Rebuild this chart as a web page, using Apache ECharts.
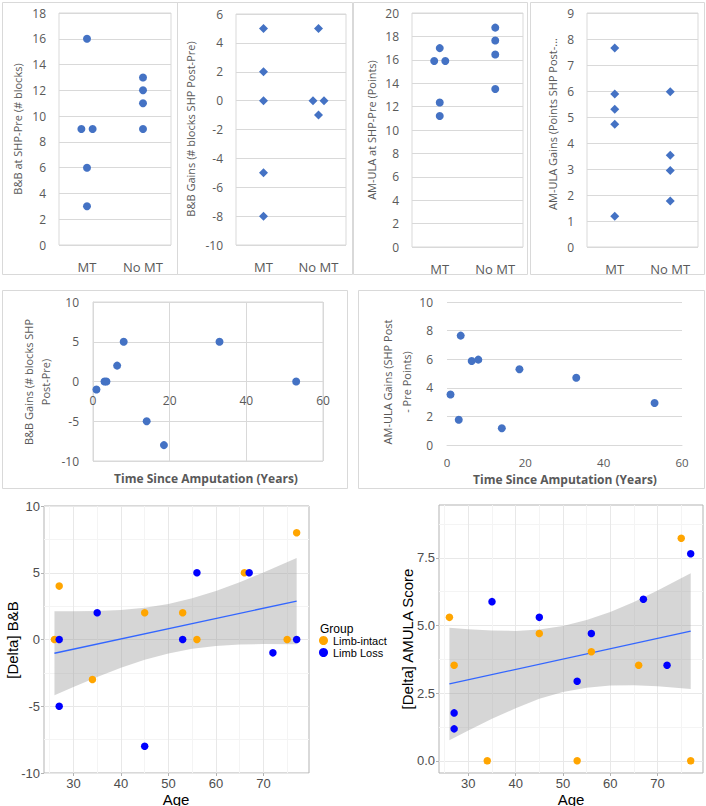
<!DOCTYPE html>
<html><head><meta charset="utf-8">
<script src="https://cdn.jsdelivr.net/npm/echarts@6/dist/echarts.min.js"></script>
<style>html,body{margin:0;padding:0;background:#fff}#c{width:706px;height:806px}</style>
</head><body><div id="c"></div>
<script>
// ================= DATA =================
const groupLabels = ['MT', 'No MT'];

// Top row (dot plots by group). Offsets separate tied points horizontally.
const bbPreGroup  = ['MT','MT','MT','MT','MT','No MT','No MT','No MT','No MT'];
const bbPreOffset = [0, -0.1, 0.1, 0, 0, 0, 0, 0, 0];
const bbPreValue  = [16, 9, 9, 6, 3, 13, 12, 11, 9];

const bbGainGroup  = ['MT','MT','MT','MT','MT','No MT','No MT','No MT','No MT'];
const bbGainOffset = [0, 0, 0, 0, 0, 0, -0.1, 0.1, 0];
const bbGainValue  = [5, 2, 0, -5, -8, 5, 0, 0, -1];

const amPreGroup  = ['MT','MT','MT','MT','MT','No MT','No MT','No MT','No MT'];
const amPreOffset = [0, -0.1, 0.1, 0, 0, 0, 0, 0, 0];
const amPreValue  = [17, 15.9, 15.9, 12.35, 11.2, 18.75, 17.65, 16.45, 13.5];

const amGainGroup  = ['MT','MT','MT','MT','MT','No MT','No MT','No MT','No MT'];
const amGainOffset = [0, 0, 0, 0, 0, 0, 0, 0, 0];
const amGainValue  = [7.65, 5.88, 5.3, 4.72, 1.18, 5.97, 3.53, 2.94, 1.77];

// Middle row (vs time since amputation)
const yearsSince      = [0.9, 3.0, 3.5, 6.3, 8.0, 14.0, 18.5, 33.0, 53.0];
const bbGainByYears   = [-1, 0, 0, 2, 5, -5, -8, 5, 0];
const amGainByYears   = [3.53, 1.77, 7.65, 5.87, 5.97, 1.17, 5.3, 4.7, 2.94];

// Bottom row (vs age, by group)
const intactAge = [26, 27, 34, 45, 53, 56, 66, 75, 77];
const intactBB  = [0, 4, -3, 2, 2, 0, 5, 0, 8];
const intactAM  = [5.3, 3.53, 0, 4.7, 0, 4.03, 3.53, 8.22, 0];
const lossAge   = [27, 27, 35, 45, 53, 56, 67, 72, 77];
const lossBB    = [0, -5, 2, -8, 0, 5, 5, -1, 0];
const lossAM    = [1.77, 1.18, 5.88, 5.3, 2.94, 4.7, 5.97, 3.53, 7.65];

// Fitted lines and confidence bands
const fitAge = [26, 77];
const bbFit  = [-1.03, 2.88];
const amFit  = [2.84, 4.79];
const bandAge    = [26, 30, 35, 40, 45, 50, 55, 60, 65, 70, 77];
const bbBandLow  = [-4.18, -3.55, -2.81, -2.11, -1.52, -1.04, -0.69, -0.48, -0.37, -0.34, -0.35];
const bbBandHigh = [2.12, 2.11, 2.13, 2.21, 2.38, 2.66, 3.09, 3.64, 4.29, 5.02, 6.11];
const amBandLow  = [0.76, 1.12, 1.55, 1.94, 2.29, 2.54, 2.70, 2.78, 2.79, 2.75, 2.65];
const amBandHigh = [4.92, 4.86, 4.81, 4.80, 4.85, 4.98, 5.20, 5.50, 5.87, 6.29, 6.93];

// Tick values
const ageTicks = [30, 40, 50, 60, 70];
const ageMinorTicks = [25, 35, 45, 55, 65, 75];
const bbTicks = [-10, -5, 0, 5, 10];
const bbMinorTicks = [-7.5, -2.5, 2.5, 7.5];
const amTicks = [0, 2.5, 5, 7.5];
const amMinorTicks = [1.25, 3.75, 6.25, 8.75];

// ================= STYLE =================
const F_XL = '"Open Sans", "Noto Sans", sans-serif';
const F_GG = '"Liberation Sans", Arial, sans-serif';
const XL_LINE = '#d9d9d9', XL_TEXT = '#595959', XL_BLUE = '#4472C4';
const GG_BORDER = '#b3b3b3', GG_MAJOR = '#e8e8e8', GG_MINOR = '#f4f4f4', GG_TEXT = '#4d4d4d';
const C_INTACT = '#FFA500', C_LOSS = '#0000FF', C_FIT = '#3366FF';

function g(l, t, w, h, extra) {
  return Object.assign({left: l, top: t, width: w, height: h, outerBoundsMode: 'none', containLabel: false}, extra || {});
}
const MID_L = {left: 93, top: 302, width: 230, height: 159};
const grids = [
  g(59, 13, 112, 232, {show: true, borderColor: XL_LINE, borderWidth: 1}),
  g(236, 14, 110, 231, {show: true, borderColor: XL_LINE, borderWidth: 1}),
  g(412, 13, 111, 234, {show: true, borderColor: XL_LINE, borderWidth: 1}),
  g(587, 13, 111, 234, {show: true, borderColor: XL_LINE, borderWidth: 1}),
  g(MID_L.left, MID_L.top, MID_L.width, MID_L.height, {show: true, borderColor: XL_LINE, borderWidth: 1}),
  g(447, 302, 235, 143),
  g(44, 506, 265, 267, {show: true, borderColor: GG_BORDER, borderWidth: 1}),
  g(439, 505, 264, 268, {show: true, borderColor: GG_BORDER, borderWidth: 1})
];

function topX(gi) {
  return {gridIndex: gi, type: 'value', min: 0.5, max: 2.5,
    axisLine: {show: false, onZero: false}, axisTick: {show: false}, splitLine: {show: false},
    axisLabel: {customValues: [1, 2], formatter: v => groupLabels[Math.round(v) - 1],
      margin: 15, fontSize: 13, color: XL_TEXT, fontFamily: F_XL}};
}
function topY(gi, min, max, interval) {
  return {gridIndex: gi, type: 'value', min, max, interval,
    axisLine: {show: false, onZero: false}, axisTick: {show: false},
    splitLine: {show: true, lineStyle: {color: XL_LINE, width: 1}},
    axisLabel: {margin: 13, fontSize: 12, color: XL_TEXT, fontFamily: F_XL}};
}
function ggAxisMajor(gi, min, max, values, fmt) {
  return {gridIndex: gi, type: 'value', min, max,
    axisLine: {show: false, onZero: false},
    axisTick: {show: true, length: 3, customValues: values, lineStyle: {color: GG_BORDER}},
    splitLine: {show: true, lineStyle: {color: GG_MAJOR, width: 1}},
    axisLabel: {customValues: values, formatter: fmt, margin: 4, fontSize: 13, color: GG_TEXT, fontFamily: F_GG}};
}
function ggAxisMinor(gi, min, max, values) {
  return {gridIndex: gi, type: 'value', min, max,
    axisLine: {show: false, onZero: false},
    axisTick: {show: false, customValues: values},
    splitLine: {show: true, lineStyle: {color: GG_MINOR, width: 1}},
    axisLabel: {show: false, customValues: values}};
}

// middle-left y range; x axis is shifted up so that it crosses at y = 0
const midLeftYMin = -10, midLeftYMax = 10;
const midLeftZeroShift = -MID_L.height * (0 - midLeftYMin) / (midLeftYMax - midLeftYMin);

const xAxes = [
  topX(0), topX(1), topX(2), topX(3),
  {gridIndex: 4, type: 'value', min: 0, max: 60, interval: 20, position: 'bottom', offset: midLeftZeroShift,
    axisLine: {show: true, onZero: false, lineStyle: {color: XL_LINE}}, axisTick: {show: false},
    splitLine: {show: true, lineStyle: {color: XL_LINE}},
    axisLabel: {margin: 13, fontSize: 12, color: XL_TEXT, fontFamily: F_XL}},
  {gridIndex: 5, type: 'value', min: 0, max: 60, interval: 20,
    axisLine: {show: true, onZero: false, lineStyle: {color: XL_LINE}}, axisTick: {show: false},
    splitLine: {show: false},
    axisLabel: {margin: 11, fontSize: 11.5, color: XL_TEXT, fontFamily: F_XL}},
  ggAxisMajor(6, 23.8, 79.6, ageTicks, v => String(v)),
  ggAxisMajor(7, 23.8, 79.6, ageTicks, v => String(v)),
  ggAxisMinor(6, 23.8, 79.6, ageMinorTicks),
  ggAxisMinor(7, 23.8, 79.6, ageMinorTicks)
];
const yAxes = [
  topY(0, 0, 18, 2), topY(1, -10, 6, 2), topY(2, 0, 20, 2), topY(3, 0, 9, 1),
  {gridIndex: 4, type: 'value', min: midLeftYMin, max: midLeftYMax, interval: 5,
    axisLine: {show: true, onZero: false, lineStyle: {color: XL_LINE}}, axisTick: {show: false},
    splitLine: {show: true, lineStyle: {color: XL_LINE}},
    axisLabel: {margin: 14, fontSize: 12, color: XL_TEXT, fontFamily: F_XL}},
  {gridIndex: 5, type: 'value', min: 0, max: 10, interval: 2,
    axisLine: {show: false, onZero: false}, axisTick: {show: false},
    splitLine: {show: true, lineStyle: {color: XL_LINE}},
    axisLabel: {margin: 14, fontSize: 12, color: XL_TEXT, fontFamily: F_XL}},
  ggAxisMajor(6, -10, 10, bbTicks, v => String(v)),
  ggAxisMajor(7, -0.45, 9.45, amTicks, v => v.toFixed(1)),
  ggAxisMinor(6, -10, 10, bbMinorTicks),
  ggAxisMinor(7, -0.45, 9.45, amMinorTicks)
];

function groupPoints(groups, offsets, values) {
  return values.map((v, i) => [groupLabels.indexOf(groups[i]) + 1 + offsets[i], v]);
}
function pairs(xs, ys) { return xs.map((x, i) => [x, ys[i]]); }

function xlScatter(ai, data, symbol, size) {
  return {type: 'scatter', xAxisIndex: ai, yAxisIndex: ai, data, symbol, symbolSize: size,
    itemStyle: {color: XL_BLUE, opacity: 1}, silent: true, z: 3};
}
function band(ai, low, high) {
  return {type: 'custom', coordinateSystem: 'cartesian2d', xAxisIndex: ai, yAxisIndex: ai,
    data: [[bandAge[0], low[0]]], silent: true, z: 1,
    renderItem: (params, api) => {
      const pts = [];
      for (let i = 0; i < bandAge.length; i++) pts.push(api.coord([bandAge[i], high[i]]));
      for (let i = bandAge.length - 1; i >= 0; i--) pts.push(api.coord([bandAge[i], low[i]]));
      return {type: 'polygon', shape: {points: pts}, style: {fill: 'rgba(153,153,153,0.4)', stroke: null}};
    }};
}
function fitLine(ai, ys) {
  return {type: 'line', xAxisIndex: ai, yAxisIndex: ai, data: pairs(fitAge, ys), symbol: 'none',
    lineStyle: {color: C_FIT, width: 1.3}, silent: true, z: 2};
}
function ggScatter(ai, name, xs, ys, color) {
  return {type: 'scatter', name, xAxisIndex: ai, yAxisIndex: ai, data: pairs(xs, ys),
    symbol: 'circle', symbolSize: 7.5, itemStyle: {color, opacity: 1}, silent: true, z: 3};
}

const series = [
  xlScatter(0, groupPoints(bbPreGroup, bbPreOffset, bbPreValue), 'circle', 8),
  xlScatter(1, groupPoints(bbGainGroup, bbGainOffset, bbGainValue), 'diamond', 9),
  xlScatter(2, groupPoints(amPreGroup, amPreOffset, amPreValue), 'circle', 8),
  xlScatter(3, groupPoints(amGainGroup, amGainOffset, amGainValue), 'diamond', 9),
  xlScatter(4, pairs(yearsSince, bbGainByYears), 'circle', 8),
  xlScatter(5, pairs(yearsSince, amGainByYears), 'circle', 8),
  band(6, bbBandLow, bbBandHigh),
  fitLine(6, bbFit),
  ggScatter(6, 'Limb-intact', intactAge, intactBB, C_INTACT),
  ggScatter(6, 'Limb Loss', lossAge, lossBB, C_LOSS),
  band(7, amBandLow, amBandHigh),
  fitLine(7, amFit),
  ggScatter(7, 'Limb-intact', intactAge, intactAM, C_INTACT),
  ggScatter(7, 'Limb Loss', lossAge, lossAM, C_LOSS)
];

function txt(x, y, text, o) {
  o = o || {};
  return {type: 'text', x, y, rotation: o.rot || 0, silent: true, z: 10,
    style: {text, fill: o.color || XL_TEXT, fontSize: o.size || 11, fontFamily: o.family || F_XL,
      fontWeight: o.weight || 'normal', align: o.align || 'center', verticalAlign: 'middle',
      lineHeight: o.lh || undefined}};
}
function box(x, y, w, h) {
  return {type: 'rect', silent: true, z: 0, shape: {x: x + 0.5, y: y + 0.5, width: w, height: h},
    style: {fill: 'none', stroke: '#d9d9d9', lineWidth: 1}};
}
const R = Math.PI / 2;
const graphics = [
  box(2, 2, 175, 272), box(177, 2, 175, 272), box(353, 2, 174, 272), box(530, 2, 174, 272),
  box(2, 290, 345, 198), box(358, 290, 346, 198),
  txt(17, 129, 'B&B at SHP-Pre (# blocks)', {rot: R}),
  txt(190, 129, 'B&B Gains (# blocks SHP Post-Pre)', {rot: R}),
  txt(371, 130, 'AM-ULA at SHP-Pre (Points)', {rot: R}),
  txt(552, 124, 'AM-ULA Gains (Points SHP Post-...', {rot: R}),
  txt(37, 382, 'B&B Gains (# blocks SHP\nPost-Pre)', {rot: R, lh: 17}),
  txt(397, 382, 'AM-ULA Gains (SHP Post\n- Pre Points)', {rot: R, lh: 19}),
  txt(206, 478, 'Time Since Amputation (Years)', {weight: 'bold', size: 12}),
  txt(565, 479, 'Time Since Amputation (Years)', {weight: 'bold', size: 12}),
  txt(12, 640, '[Delta] B&B', {rot: R, size: 15, family: F_GG, color: '#000'}),
  txt(176, 799, 'Age', {size: 15, family: F_GG, color: '#000'}),
  txt(407, 639, '[Delta] AMULA Score', {rot: R, size: 15, family: F_GG, color: '#000'}),
  txt(571, 799, 'Age', {size: 15, family: F_GG, color: '#000'}),
  txt(320, 629, 'Group', {size: 12, family: F_GG, color: '#000', align: 'left'})
];

const chart = echarts.init(document.getElementById('c'), null, {renderer: 'svg', width: 706, height: 806});
chart.setOption({
  animation: false,
  backgroundColor: '#ffffff',
  grid: grids,
  xAxis: xAxes,
  yAxis: yAxes,
  legend: {show: true, orient: 'vertical', left: 319, top: 635, padding: 0, itemGap: 1,
    itemWidth: 9, itemHeight: 9, icon: 'circle', selectedMode: false,
    data: ['Limb-intact', 'Limb Loss'],
    textStyle: {fontSize: 11, fontFamily: F_GG, color: '#000', lineHeight: 11}},
  graphic: {elements: graphics},
  series
});
</script></body></html>
